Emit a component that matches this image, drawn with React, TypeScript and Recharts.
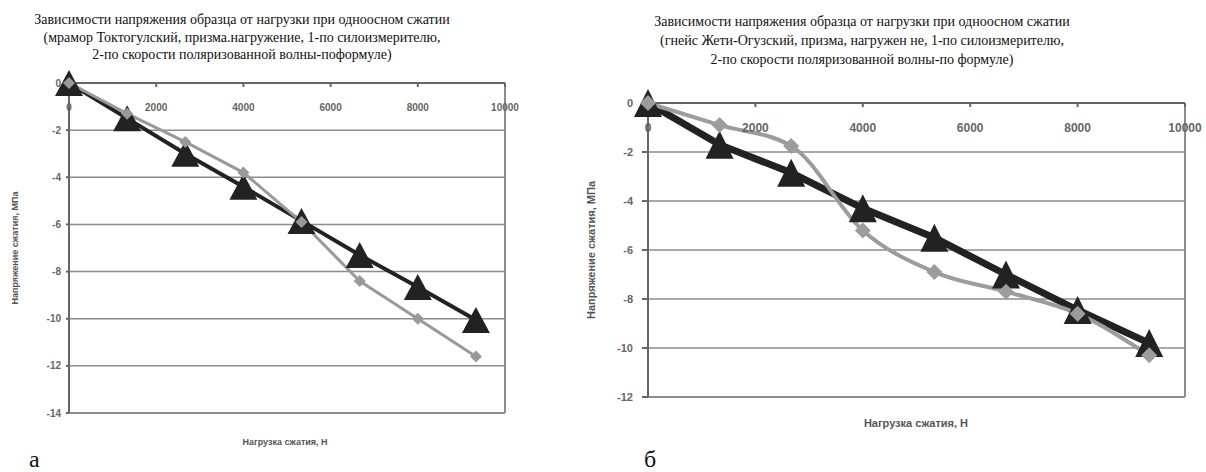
import React from "react";
import {
  LineChart, Line, XAxis, YAxis, CartesianGrid, ReferenceLine,
} from "recharts";

// нагрузка сжатия, Н
const loads = [0, 1333, 2667, 4000, 5333, 6667, 8000, 9333];

// а: мрамор Токтогулский
const marbleGauge = [0, -1.5, -3.0, -4.4, -5.85, -7.3, -8.65, -10.05];
const marbleWave = [0, -1.3, -2.5, -3.8, -5.9, -8.4, -10.0, -11.6];

// б: гнейс Жети-Огузский
const gneissGauge = [0, -1.7, -2.85, -4.3, -5.5, -7.0, -8.45, -9.8];
const gneissWave = [0, -0.9, -1.75, -5.2, -6.9, -7.7, -8.6, -10.3];

const xTicks = [0, 2000, 4000, 6000, 8000, 10000];
const yTicksA = [0, -2, -4, -6, -8, -10, -12, -14];
const yTicksB = [0, -2, -4, -6, -8, -10, -12];

const titleA = [
  "Зависимости напряжения образца от нагрузки при одноосном сжатии",
  "(мрамор Токтогулский, призма.нагружение, 1-по силоизмерителю,",
  "2-по скорости поляризованной волны-поформуле)",
];
const titleB = [
  "Зависимости напряжения образца от нагрузки при одноосном сжатии",
  "(гнейс Жети-Огузский, призма, нагружен не, 1-по силоизмерителю,",
  "2-по скорости поляризованной волны-по формуле)",
];

const rowsA = loads.map((x, i) => ({ x, gauge: marbleGauge[i], wave: marbleWave[i] }));
const rowsB = loads.map((x, i) => ({ x, gauge: gneissGauge[i], wave: gneissWave[i] }));

const serif = "Liberation Serif, DejaVu Serif, serif";
const sans = "Liberation Sans, Arial, sans-serif";

function triangle(w: number, h: number, fill: string) {
  return (p: any) => {
    if (p.cx == null || p.cy == null) return <g key={p.index} />;
    const { cx, cy } = p;
    const pts = `${cx},${cy - h / 2} ${cx - w / 2},${cy + h / 2} ${cx + w / 2},${cy + h / 2}`;
    return <polygon key={p.index} points={pts} fill={fill} />;
  };
}

function diamond(s: number, fill: string) {
  return (p: any) => {
    if (p.cx == null || p.cy == null) return <g key={p.index} />;
    const { cx, cy } = p;
    const r = s / 2;
    const pts = `${cx},${cy - r} ${cx + r},${cy} ${cx},${cy + r} ${cx - r},${cy}`;
    return <polygon key={p.index} points={pts} fill={fill} />;
  };
}

function Title({ lines, cx, top, lh }: { lines: string[]; cx: number; top: number; lh: number }) {
  return (
    <div style={{ position: "absolute", left: cx - 300, top, width: 600, textAlign: "center", fontFamily: serif, fontSize: 14, lineHeight: `${lh}px`, color: "#111", whiteSpace: "nowrap" }}>
      {lines.map((l) => <div key={l}>{l}</div>)}
    </div>
  );
}

function VLabel({ text, cx, cy, size }: { text: string; cx: number; cy: number; size: number }) {
  return (
    <div style={{ position: "absolute", left: cx - 150, top: cy - 8, width: 300, height: 16, lineHeight: "16px", textAlign: "center", transform: "rotate(-90deg)", fontFamily: sans, fontSize: size, fontWeight: "bold", color: "#555", whiteSpace: "nowrap" }}>
      {text}
    </div>
  );
}

export default function App() {
  return (
    <div style={{ position: "absolute", left: 0, top: 0, width: 1206, height: 472, background: "#fff", overflow: "hidden" }}>
      <Title lines={titleA} cx={242} top={11} lh={17.5} />
      <Title lines={titleB} cx={862} top={12} lh={19} />

      {/* а */}
      <div style={{ position: "absolute", left: 0, top: 0 }}>
        <LineChart width={600} height={472} data={rowsA} margin={{ top: 83, right: 95, bottom: 59, left: 19 }}>
          <CartesianGrid vertical={false} stroke="#8c8c8c" strokeWidth={1.5} />
          <XAxis dataKey="x" type="number" domain={[0, 10000]} ticks={xTicks} orientation="top" mirror
            tickSize={4} tickMargin={17} stroke="#666" strokeWidth={2}
            tick={{ fontSize: 10, fill: "#666", fontFamily: sans, fontWeight: "bold" }} />
          <YAxis type="number" domain={[-14, 0]} ticks={yTicksA} width={50} tickSize={3} tickMargin={5}
            stroke="#666" strokeWidth={2} tick={{ fontSize: 10, fill: "#666", fontFamily: sans, fontWeight: "bold" }} />
          <ReferenceLine x={10000} stroke="#8c8c8c" strokeWidth={2} />
          <ReferenceLine y={-14} stroke="#8c8c8c" strokeWidth={2} />
          <Line dataKey="gauge" stroke="#222" strokeWidth={4} dot={triangle(28, 26, "#222")} isAnimationActive={false} />
          <Line dataKey="wave" stroke="#999" strokeWidth={3} dot={diamond(12, "#999")} isAnimationActive={false} />
        </LineChart>
      </div>
      <VLabel text="Напряжение сжатия, МПа" cx={15} cy={248} size={9} />
      <div style={{ position: "absolute", left: 185, top: 437, width: 200, textAlign: "center", fontFamily: sans, fontSize: 9, fontWeight: "bold", color: "#555" }}>
        Нагрузка сжатия, Н
      </div>
      <div style={{ position: "absolute", left: 29, top: 446, fontFamily: serif, fontSize: 24, color: "#111" }}>а</div>

      {/* б */}
      <div style={{ position: "absolute", left: 600, top: 0 }}>
        <LineChart width={606} height={472} data={rowsB} margin={{ top: 103, right: 21, bottom: 75, left: 8 }}>
          <CartesianGrid vertical={false} stroke="#8c8c8c" strokeWidth={1.5} />
          <XAxis dataKey="x" type="number" domain={[0, 10000]} ticks={xTicks} orientation="top" mirror
            tickSize={4} tickMargin={16} stroke="#666" strokeWidth={2}
            tick={{ fontSize: 12, fill: "#666", fontFamily: sans, fontWeight: "bold" }} />
          <YAxis type="number" domain={[-12, 0]} ticks={yTicksB} width={40} tickSize={6} tickMargin={9}
            stroke="#666" strokeWidth={2} tick={{ fontSize: 11, fill: "#666", fontFamily: sans, fontWeight: "bold" }} />
          <ReferenceLine x={10000} stroke="#8c8c8c" strokeWidth={2} />
          <ReferenceLine y={-12} stroke="#8c8c8c" strokeWidth={2} />
          <Line dataKey="gauge" stroke="#222" strokeWidth={7} dot={triangle(28, 28, "#222")} isAnimationActive={false} />
          <Line dataKey="wave" type="monotone" stroke="#9c9c9c" strokeWidth={4} dot={diamond(16, "#9c9c9c")} isAnimationActive={false} />
        </LineChart>
      </div>
      <VLabel text="Напряжение сжатия, МПа" cx={591} cy={250} size={11} />
      <div style={{ position: "absolute", left: 816, top: 417, width: 200, textAlign: "center", fontFamily: sans, fontSize: 11, fontWeight: "bold", color: "#555" }}>
        Нагрузка сжатия, Н
      </div>
      <div style={{ position: "absolute", left: 644, top: 446, fontFamily: serif, fontSize: 24, color: "#111" }}>б</div>
    </div>
  );
}
